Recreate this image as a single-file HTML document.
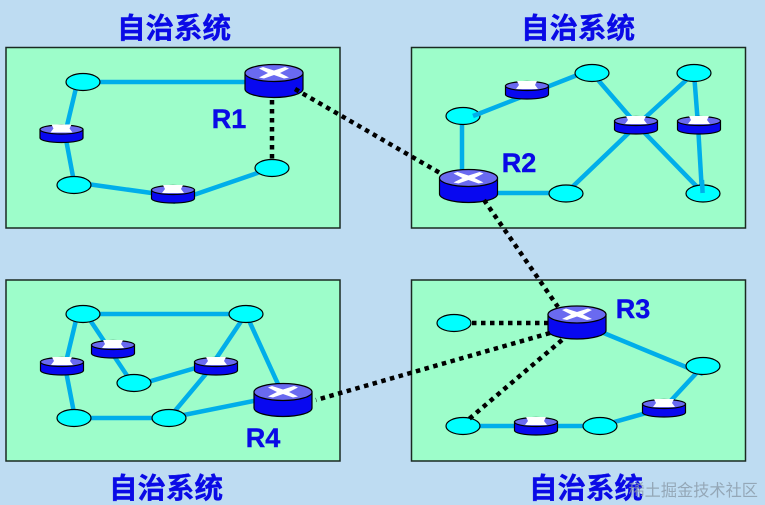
<!DOCTYPE html>
<html><head><meta charset="utf-8"><style>
html,body{margin:0;padding:0;background:#bedcf2}
svg{display:block}
.t{font-family:"Liberation Sans","Noto Sans CJK SC",sans-serif;font-weight:bold;fill:#0a0ae6;stroke:#0a0ae6;stroke-width:.4;text-anchor:middle}
</style></head><body>
<svg width="765" height="505" viewBox="0 0 765 505" xmlns="http://www.w3.org/2000/svg">
<defs>
<g id="e"><ellipse rx="17" ry="8.5" fill="#00ffff" stroke="#000" stroke-width="1.2"/></g>
<g id="s">
<path d="M-21.5 -4V4.5A21.5 4.5 0 0 0 21.5 4.5V-4Z" fill="#0808f0" stroke="#000" stroke-width="1.2"/>
<ellipse cy="-4" rx="21.5" ry="4.5" fill="#6a6af0" stroke="#000" stroke-width="1.2"/>
<path d="M-10 -9H10L8 -5L11 -1H-11L-8 -5Z" fill="#fff"/>
</g>
<g id="b">
<path d="M-29 -8V8A29 8.5 0 0 0 29 8V-8Z" fill="#0808f0" stroke="#000" stroke-width="1.2"/>
<ellipse cy="-8" rx="29" ry="8.5" fill="#6a6af0" stroke="#000" stroke-width="1.2"/>
<path d="M-11 -14L0 -10.5L11 -14L15 -12.5L6 -8L15 -3.5L10 -2.5L0 -6L-10 -2.5L-15 -3.5L-6 -8L-15 -12.5Z" fill="#fff"/>
</g>
</defs>
<rect width="765" height="505" fill="#bedcf2"/>
<g fill="#9dfdca" stroke="#1a2a22" stroke-width="1.5">
<rect x="6" y="47.5" width="334" height="180.5"/>
<rect x="411.5" y="47.5" width="334" height="180.5"/>
<rect x="6" y="280" width="334" height="181"/>
<rect x="411.5" y="280" width="334" height="181"/>
</g>
<g stroke="#00aeea" stroke-width="4.5" fill="none">
<path d="M83 82H274M76 88L65 134L74 182M80 183L173 196M272 168L173 202"/>
<path d="M462 116V175M473 116L580 74M592 73L637 125L566 193M468 193H566M694 73L637 125L703 193M694 73L698 125L702 193"/>
<path d="M83 314H246M77 316L65 366L75 418H169L283 395M86 314L134 386M134 386L216 362M246 314L205 375L169 418M246 314L283 395"/>
<path d="M577 322L703 374M703 366L664 408L600 426H463"/>
</g>
<g>
<use href="#e" x="83" y="82"/><use href="#e" x="74" y="185"/><use href="#e" x="272" y="168"/>
<use href="#e" x="592" y="73"/><use href="#e" x="694" y="73"/><use href="#e" x="463" y="116"/><use href="#e" x="566" y="193.5"/><use href="#e" x="703" y="193.5"/>
<use href="#e" x="83" y="314"/><use href="#e" x="246" y="314"/><use href="#e" x="134" y="383"/><use href="#e" x="74" y="418"/><use href="#e" x="169" y="418"/>
<use href="#e" x="454" y="323"/><use href="#e" x="703" y="366"/><use href="#e" x="463" y="426"/><use href="#e" x="600" y="426"/>
<use href="#s" x="61.5" y="133.5"/><use href="#s" x="173" y="194"/>
<use href="#s" x="527" y="90"/><use href="#s" x="636" y="125"/><use href="#s" x="699" y="125"/>
<use href="#s" x="62" y="366"/><use href="#s" x="113" y="349"/><use href="#s" x="216" y="366"/>
<use href="#s" x="536" y="426"/><use href="#s" x="664" y="408"/>
<use href="#b" x="274" y="81"/><use href="#b" x="468.5" y="186"/><use href="#b" x="283" y="400"/><use href="#b" x="577" y="322.5"/>
</g>
<g stroke="#00aeea" stroke-width="4.5" fill="none">
<path d="M473 116L482 112.5M702 180L702.6 193"/>
</g>
<g stroke="#000" stroke-width="4.5" fill="none" stroke-dasharray="4.5 4.5">
<path d="M272 100V159M295 89L440 173M484 200L558 307"/>
<path d="M472 323H548M550 333L316 400M562 340L469 419"/>
</g>
<text class="t" x="174" y="38" font-size="28.5">自治系统</text>
<text class="t" x="578" y="38" font-size="28.5">自治系统</text>
<text class="t" x="166" y="498" font-size="28.5">自治系统</text>
<text class="t" x="586" y="498" font-size="28.5">自治系统</text>
<text class="t" x="229" y="128" font-size="27">R1</text>
<text class="t" x="519" y="172" font-size="27">R2</text>
<text class="t" x="633" y="318" font-size="27">R3</text>
<text class="t" x="263" y="447" font-size="27">R4</text>
<text x="758" y="496" text-anchor="end" font-family="'Liberation Sans','Noto Sans CJK SC',sans-serif" font-size="16.2" fill="#8a9aa8" fill-opacity="0.8">稀土掘金技术社区</text>
</svg>
</body></html>
